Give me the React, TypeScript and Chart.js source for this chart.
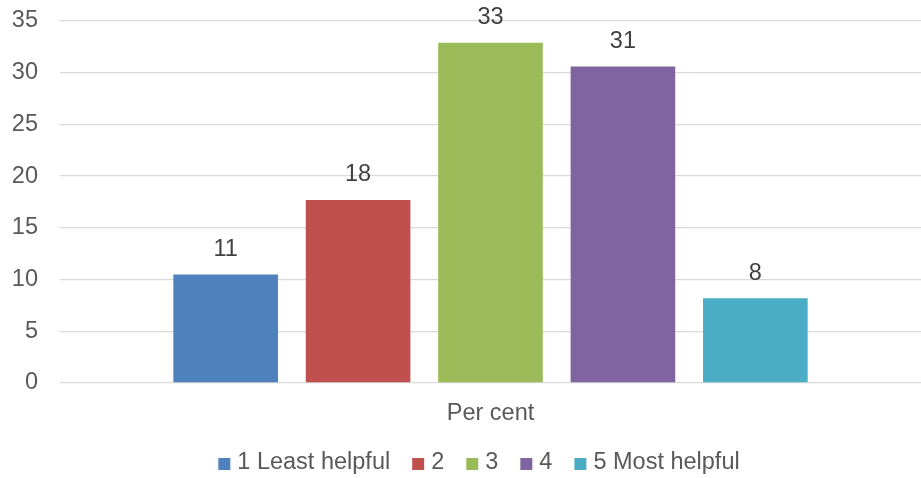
import React, { useEffect, useRef } from "react";
import { Chart, registerables } from "chart.js";

Chart.register(...registerables);

const categories = ["Per cent"];
const seriesNames = ["1 Least helpful", "2", "3", "4", "5 Most helpful"];
const seriesValues = [10.5, 17.7, 32.9, 30.6, 8.2];
const seriesColors = ["#4F81BD", "#C0504D", "#9BBB59", "#8064A2", "#4BACC6"];
const yTicks = [0, 5, 10, 15, 20, 25, 30, 35];

const FONT = "'Liberation Sans', Arial, sans-serif";
const FS = 23.5;

const dataLabelPlugin = {
  id: "dataLabels",
  afterDatasetsDraw(chart: any) {
    const ctx = chart.ctx;
    ctx.save();
    ctx.font = `${FS}px ${FONT}`;
    ctx.fillStyle = "#404040";
    ctx.textAlign = "center";
    ctx.textBaseline = "middle";
    chart.data.datasets.forEach((ds: any, i: number) => {
      const meta = chart.getDatasetMeta(i);
      meta.data.forEach((el: any, j: number) => {
        const v = ds.data[j];
        ctx.fillText(String(Math.round(v)), el.x, el.y - 25);
      });
    });
    ctx.restore();
  },
};

const legendPlugin = {
  id: "customLegend",
  afterDraw(chart: any) {
    const ctx = chart.ctx;
    ctx.save();
    ctx.font = `${FS}px ${FONT}`;
    const box = 12;
    const gapBoxText = 7;
    const gapItems = 22;
    const widths = chart.data.datasets.map(
      (ds: any) => box + gapBoxText + ctx.measureText(ds.label).width
    );
    const total = widths.reduce((a: number, b: number) => a + b, 0) + gapItems * (widths.length - 1);
    let x = 479 - total / 2;
    const y = 463;
    ctx.textBaseline = "middle";
    ctx.textAlign = "left";
    chart.data.datasets.forEach((ds: any, i: number) => {
      ctx.fillStyle = ds.backgroundColor;
      ctx.fillRect(x, y - 5, box, box);
      ctx.fillStyle = "#595959";
      ctx.fillText(ds.label, x + box + gapBoxText, y);
      x += widths[i] + gapItems;
    });
    ctx.restore();
  },
};

export default function App() {
  const ref = useRef<HTMLCanvasElement>(null);
  useEffect(() => {
    if (!ref.current) return;
    const chart = new Chart(ref.current, {
      type: "bar",
      data: {
        labels: categories,
        datasets: seriesNames.map((name, i) => ({
          label: name,
          data: [seriesValues[i]],
          backgroundColor: seriesColors[i],
          borderWidth: 0,
          categoryPercentage: 0.769,
          barPercentage: 0.79,
        })),
      },
      options: {
        animation: false,
        responsive: false,
        devicePixelRatio: 1,
        layout: { padding: { top: 21, right: -4, bottom: 45, left: 0 } },
        plugins: {
          legend: { display: false },
          tooltip: { enabled: false },
        },
        scales: {
          x: {
            grid: { display: false, drawTicks: false },
            border: { display: false },
            ticks: {
              color: "#595959",
              font: { family: FONT, size: FS },
              padding: 16,
            },
            afterFit: (s: any) => {
              s.height = 50;
            },
          },
          y: {
            min: 0,
            max: 35,
            afterBuildTicks: (s: any) => {
              s.ticks = yTicks.map((v) => ({ value: v }));
            },
            grid: { color: "#D9D9D9", lineWidth: 1.3, drawTicks: false },
            border: { display: false },
            ticks: {
              color: "#595959",
              font: { family: FONT, size: FS },
              padding: 22,
            },
            afterFit: (s: any) => {
              s.width = 60;
              s.paddingTop = 0;
              s.paddingBottom = 0;
            },
          },
        },
      },
      plugins: [dataLabelPlugin, legendPlugin],
    });
    return () => chart.destroy();
  }, []);
  return (
    <div style={{ position: "fixed", left: 0, top: 0, width: 921, height: 478, background: "#fff" }}>
      <canvas ref={ref} width={921} height={478} style={{ width: 921, height: 478 }} />
    </div>
  );
}
